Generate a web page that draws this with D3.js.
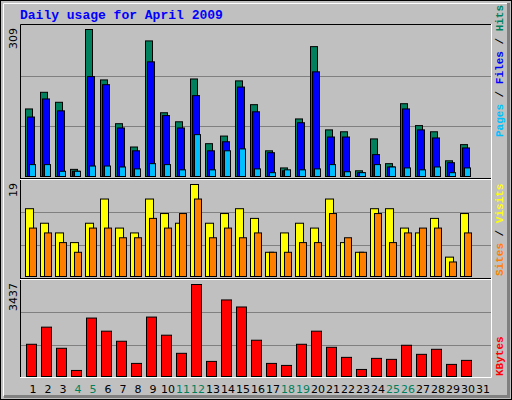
<!DOCTYPE html><html><head><meta charset="utf-8"><script src="https://cdn.jsdelivr.net/npm/d3@7"></script>
<style>body{margin:0;background:#fff}svg{display:block}</style></head><body><svg id="c" width="512" height="400"></svg><script>
const days=d3.range(1,32);
const weekend=[4,5,11,12,18,19,25,26];
const hits=[142,177,156,15,309,203,111,62,285,134,115,205,69,85,201,151,54,18,121,273,98,94,12,79,27,153,107,94,33,67];
const files=[125,163,138,11,210,193,102,54,241,128,102,170,54,73,188,136,50,12,113,220,83,83,8,46,20,142,98,81,29,60];
const pages=[25,25,11,11,22,22,20,16,27,25,14,88,14,54,58,16,8,14,14,16,25,10,8,25,20,18,14,20,8,18];
const visits=[14,11,9,7,11,16,10,9,16,13,11,19,11,13,14,12,5,9,11,10,16,7,5,14,14,10,9,12,4,13];
const sites=[10,9,7,5,10,10,8,8,12,10,13,16,8,10,8,9,5,5,7,7,13,8,5,13,7,9,10,10,3,9];
const kbytes=[1204,1844,1054,226,2183,1693,1317,489,2220,1543,866,3437,564,2860,2597,1355,489,414,1204,1693,1091,715,263,677,640,1167,828,1016,452,602];
const svg=d3.select("#c");
svg.append("rect").attr("x",0.5).attr("y",0.5).attr("width",511).attr("height",399).attr("fill","#c0c0c0").attr("stroke","#000");
svg.append("path").attr("d","M3.5,396V3.5H508").attr("fill","none").attr("stroke","#fff");
svg.append("path").attr("d","M4,396.5H508.5V3").attr("fill","none").attr("stroke","#808080").attr("stroke-width",3);
svg.append("text").attr("x",20).attr("y",19).text("Daily usage for April 2009").attr("font-family","Liberation Mono, DejaVu Sans Mono, monospace").attr("font-weight","bold").attr("font-size",13).attr("fill","#0000ff");
const x=d3.scaleLinear().domain([1,32]).range([25,490]);
const L=20,R=491;
function panel(y0,y1,max,label){
  svg.append("rect").attr("x",L).attr("y",y0).attr("width",R-L).attr("height",y1-y0).attr("fill","#c0c0c0");
  const y=d3.scaleLinear().domain([0,max]).range([y1-1,y0+4]);
  [1/3,2/3].forEach(f=>{const gy=Math.round(y1-(y1-y0)*f)+0.5;svg.append("line").attr("x1",L).attr("x2",R).attr("y1",gy).attr("y2",gy).attr("stroke","#808080");});
  svg.append("text").attr("transform",`translate(17,${y0+3}) rotate(-90)`).attr("text-anchor","end").text(label).attr("font-family","DejaVu Sans, sans-serif").attr("font-size",11).attr("fill","#000");
  return y;
}
function bars(y,data,off,w,col){
  svg.append("g").selectAll("rect").data(data).join("rect").attr("x",(d,i)=>x(i+1)+off+0.5).attr("y",d=>y(d)+0.5).attr("width",w).attr("height",d=>y(0)-y(d)).attr("fill",col).attr("stroke","#000");
}
const y1=panel(25,177,309,"309");
bars(y1,hits,0,7,"#00805c");bars(y1,files,2,7,"#0000ff");bars(y1,pages,4,6,"#00c0ff");
const y2=panel(180,277,19,"19");
bars(y2,visits,0,8,"#ffff00");bars(y2,sites,4,7,"#ff8000");
const y3=panel(280,377,3437,"3437");
bars(y3,kbytes,1,10,"#ff0000");
// frame lines
svg.append("path").attr("d",`M${L}.5,378V24.5H${R}`).attr("fill","none").attr("stroke","#000");
svg.append("path").attr("d",`M${L},377.5H${R}.5V24`).attr("fill","none").attr("stroke","#fff");
[179.5,279.5].forEach(v=>svg.append("line").attr("x1",L).attr("x2",R).attr("y1",v).attr("y2",v).attr("stroke","#fff"));
[178.5,278.5].forEach(v=>svg.append("line").attr("x1",L).attr("x2",R).attr("y1",v).attr("y2",v).attr("stroke","#000"));
svg.append("g").selectAll("text").data(days).join("text").attr("x",d=>x(d)+8).attr("y",393).attr("text-anchor","middle").text(d=>d).attr("font-family","DejaVu Sans, sans-serif").attr("font-size",11).attr("fill",d=>weekend.includes(d)?"#00805c":"#000");
function rlabel(yb,parts){
  const t=svg.append("text").attr("transform",`translate(503,${yb}) rotate(-90)`).attr("font-family","Liberation Mono, DejaVu Sans Mono, monospace").attr("font-weight","bold").attr("font-size",11);
  parts.forEach(p=>t.append("tspan").text(p[0]).attr("fill",p[1]));
}
rlabel(137,[["Pages","#00c0ff"],[" / ","#000"],["Files","#0000ff"],[" / ","#000"],["Hits","#00805c"]]);
rlabel(276,[["Sites","#ff8000"],[" / ","#000"],["Visits","#ffff00"]]);
rlabel(376,[["KBytes","#ff0000"]]);
</script></body></html>
